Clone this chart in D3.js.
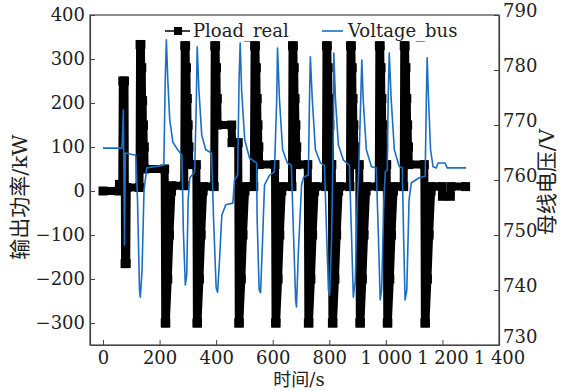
<!DOCTYPE html>
<html lang="zh">
<head>
<meta charset="utf-8">
<title>Pload / Voltage</title>
<script src="https://cdnjs.cloudflare.com/ajax/libs/d3/7.8.5/d3.min.js"></script>
<style>
  body { margin: 0; background: #fff; }
  text { font-family: "DejaVu Serif", "Noto Sans CJK SC", serif; fill: #222; }
</style>
</head>
<body>
<div id="chart"></div>
<script>
// time axis ticks (s) and the two value axes
var xTicks = [0, 200, 400, 600, 800, 1000, 1200, 1400];
var powerTicks = [-300, -200, -100, 0, 100, 200, 300, 400];
var voltTicks = [730, 740, 750, 760, 770, 780, 790];

// Pload_real : time (s) / power (kW)
var loadTime = [0, 56, 58, 68, 70, 76, 78, 82, 84, 129,
  131, 134, 135, 137, 138, 140, 141, 143, 144, 146, 147, 218, 220, 222, 229, 235, 242, 244, 287,
  289, 292, 293, 295, 296, 298, 299, 301, 302, 304, 305, 330, 332, 334, 341, 347, 354, 356, 393,
  395, 398, 399, 401, 402, 404, 405, 455, 456, 478, 480, 482, 489, 495, 502, 504, 533,
  536, 539, 540, 542, 543, 545, 546, 548, 549, 551, 552, 608, 610, 612, 619, 625, 632, 634, 668,
  670, 673, 674, 676, 677, 679, 680, 682, 683, 685, 686, 724, 726, 728, 735, 741, 748, 750, 788,
  790, 793, 794, 796, 797, 799, 800, 802, 803, 809, 811, 813, 820, 826, 833, 835, 873,
  875, 878, 879, 881, 882, 884, 885, 887, 888, 890, 891, 906, 908, 910, 917, 923, 930, 932, 975,
  977, 980, 981, 983, 984, 986, 987, 989, 990, 992, 993, 1003, 1005, 1007, 1014, 1020, 1027, 1029, 1063,
  1065, 1068, 1069, 1071, 1072, 1074, 1075, 1077, 1078, 1080, 1081, 1136, 1138, 1140, 1147, 1153, 1160,
  1162, 1198, 1200, 1228, 1230, 1282];
var loadPower = [0, 0, 15, 15, 250, 250, -165, -165, 8, 8,
  333, 333, 280, 280, 205, 205, 150, 150, 100, 100, 50, 50, -300, -300, -200, -100, 0, 12, 12,
  330, 330, 280, 280, 210, 210, 150, 150, 100, 100, 60, 60, -300, -300, -200, -100, 0, 10, 10,
  330, 330, 280, 280, 210, 210, 150, 150, 110, 110, -300, -300, -200, -100, 0, 10, 10,
  330, 330, 280, 280, 210, 210, 150, 150, 100, 100, 60, 60, -300, -300, -200, -100, 0, 10, 10,
  330, 330, 280, 280, 210, 210, 150, 150, 100, 100, 60, 60, -300, -300, -200, -100, 0, 10, 10,
  330, 330, 280, 280, 210, 210, 150, 150, 60, 60, -300, -300, -200, -100, 0, 10, 10,
  330, 330, 280, 280, 210, 210, 150, 150, 100, 100, 60, 60, -300, -300, -200, -100, 0, 10, 10,
  330, 330, 280, 280, 210, 210, 150, 150, 100, 100, 60, 60, -300, -300, -200, -100, 0, 10, 10,
  330, 330, 280, 280, 210, 210, 150, 150, 100, 100, 60, 60, -300, -300, -200, -100, 0,
  10, 10, -12, -12, 10, 10];

// Voltage_bus : time (s) / voltage (V)
var voltTime = [0, 67, 72, 76, 79, 116, 122, 129, 132, 138, 145, 155, 215, 220, 224, 229, 236, 247, 264, 279,
  284, 291, 296, 301, 307, 324, 330, 333, 339, 349, 363, 384,
  391, 400, 405, 412, 420, 434, 459, 465, 476, 481, 485, 490, 501, 518, 543,
  545, 552, 557, 564, 571, 589, 606, 614, 617, 624, 635, 652, 666,
  673, 681, 684, 691, 702, 709, 726, 730, 733, 740, 751, 769, 783,
  790, 797, 801, 808, 815, 816, 822, 832, 850, 871,
  878, 885, 892, 899, 904, 911, 915, 920, 931, 949, 966,
  973, 980, 985, 993, 998, 1005, 1008, 1012, 1019, 1030, 1047, 1058,
  1063, 1068, 1074, 1082, 1090, 1118, 1139, 1143, 1146, 1151, 1158, 1167, 1178, 1185, 1209, 1217, 1284];
var voltValue = [765.8, 765.8, 772.7, 748.2, 764.9, 764.5, 756.4, 740, 738.7, 743.6, 758.2, 762.2, 762.7, 778.2, 785.5, 778.2, 770.9, 766.9, 765.5, 764.5,
  750.9, 740.9, 742.7, 756.4, 760.4, 761.5, 774.5, 784.2, 776.4, 768.2, 765.5, 764.9,
  752.7, 740.4, 739.6, 745.5, 753.6, 755.5, 755.8, 760, 760.9, 778.2, 784.9, 776.4, 767.3, 764, 763.1,
  752.7, 740, 739.5, 749, 759.1, 760.9, 761.5, 774.5, 784, 774.5, 765.5, 763.1, 762.7,
  750.9, 738.2, 736.9, 747.3, 759.1, 760.5, 760.9, 774.5, 782.4, 774.5, 765.5, 763.1, 762.7,
  750.9, 740, 739.1, 749.1, 770.9, 783.1, 774.5, 766.4, 763.6, 762.7,
  750.9, 738.7, 741.8, 756.4, 761.5, 774.5, 781.8, 774.5, 765.5, 762.4, 762.2,
  750.9, 738.2, 740, 756.4, 761.5, 761.8, 774.5, 783.1, 774.5, 765.5, 762.5, 762.2,
  749.1, 738.2, 740, 756.4, 759.5, 760.4, 760.7, 774.5, 782.2, 774.5, 765.5, 762.4, 762.2, 763.1, 763.1, 762.2, 762.2];

var width = 573, height = 391;
var padL = 90, padR = 499, padT = 15, padB = 345;
var blue = "#1b6ec2";

var svg = d3.select("#chart").append("svg")
  .attr("width", width)
  .attr("height", height);

var x = d3.scaleLinear().domain([-46, 1400]).range([padL, padR]);
var yP = d3.scaleLinear().domain([-350, 400]).range([padB, padT]);
var yV = d3.scaleLinear().domain([730, 790]).range([padB, padT]);

var fmt = d3.formatLocale({decimal: ".", thousands: " ", grouping: [3], currency: ["", ""], minus: "\u2212"}).format(",");

// load power: thick black line with square markers
var loadData = loadTime.map(function(t, i) { return [t, loadPower[i]]; });
svg.append("path")
  .datum(loadData)
  .attr("d", d3.line().x(function(d) { return x(d[0]); }).y(function(d) { return yP(d[1]); }))
  .attr("fill", "none")
  .attr("stroke", "#000")
  .attr("stroke-width", 8)
  .attr("stroke-linejoin", "bevel");
svg.selectAll("rect.mk")
  .data(loadData)
  .enter().append("rect")
  .attr("class", "mk")
  .attr("x", function(d) { return x(d[0]) - 4.5; })
  .attr("y", function(d) { return yP(d[1]) - 4.5; })
  .attr("width", 9)
  .attr("height", 9)
  .attr("fill", "#000");

// bus voltage, thin blue
var voltData = voltTime.map(function(t, i) { return [t, voltValue[i]]; });
svg.append("path")
  .datum(voltData)
  .attr("d", d3.line().x(function(d) { return x(d[0]); }).y(function(d) { return yV(d[1]); }))
  .attr("fill", "none")
  .attr("stroke", blue)
  .attr("stroke-width", 1.6)
  .attr("stroke-linejoin", "round");

// frame
svg.append("rect")
  .attr("x", padL).attr("y", padT)
  .attr("width", padR - padL).attr("height", padB - padT)
  .attr("fill", "none").attr("stroke", "#444").attr("stroke-width", 1.2);

// axes, ticks pointing inward
var gx = svg.append("g").attr("transform", "translate(0," + padB + ")")
  .call(d3.axisBottom(x).tickValues(xTicks).tickFormat(fmt).tickSizeInner(-5).tickSizeOuter(0).tickPadding(6));
var gl = svg.append("g").attr("transform", "translate(" + padL + ",0)")
  .call(d3.axisLeft(yP).tickValues(powerTicks).tickFormat(fmt).tickSizeInner(-5).tickSizeOuter(0).tickPadding(5));
var gr = svg.append("g").attr("transform", "translate(" + padR + ",0)")
  .call(d3.axisRight(yV).tickValues(voltTicks).tickSizeInner(-5).tickSizeOuter(0).tickPadding(4));

[gx, gl, gr].forEach(function(g) {
  g.select(".domain").attr("stroke", "#444").attr("stroke-width", 1.2);
  g.selectAll(".tick line").attr("stroke", "#444");
  g.selectAll(".tick text")
    .style("font-family", "'DejaVu Serif', serif")
    .style("font-size", "18px")
    .attr("fill", "#222");
});
gr.selectAll(".tick text").attr("dy", function(d) { return d === 730 ? "-0.15em" : "0.1em"; });
gx.selectAll(".tick text").attr("dy", "0.7em");

// axis titles
svg.append("text")
  .attr("transform", "translate(27,197) rotate(-90)")
  .attr("text-anchor", "middle")
  .style("font-size", "21px")
  .text("输出功率/kW");
svg.append("text")
  .attr("transform", "translate(554,182) rotate(-90)")
  .attr("text-anchor", "middle")
  .style("font-size", "21px")
  .text("母线电压/V");
svg.append("text")
  .attr("x", 299).attr("y", 386)
  .attr("text-anchor", "middle")
  .style("font-size", "18px")
  .text("时间/s");

// legend
var leg = svg.append("g");
leg.append("line").attr("x1", 165).attr("x2", 190).attr("y1", 31).attr("y2", 31)
  .attr("stroke", "#000").attr("stroke-width", 1.5);
leg.append("rect").attr("x", 174).attr("y", 27).attr("width", 8).attr("height", 8).attr("fill", "#000");
leg.append("text").attr("x", 193).attr("y", 37).style("font-size", "18px").text("Pload_real");
leg.append("line").attr("x1", 322).attr("x2", 343).attr("y1", 31).attr("y2", 31)
  .attr("stroke", blue).attr("stroke-width", 1.6);
leg.append("text").attr("x", 348).attr("y", 37).style("font-size", "18px").text("Voltage_bus");
</script>
</body>
</html>
